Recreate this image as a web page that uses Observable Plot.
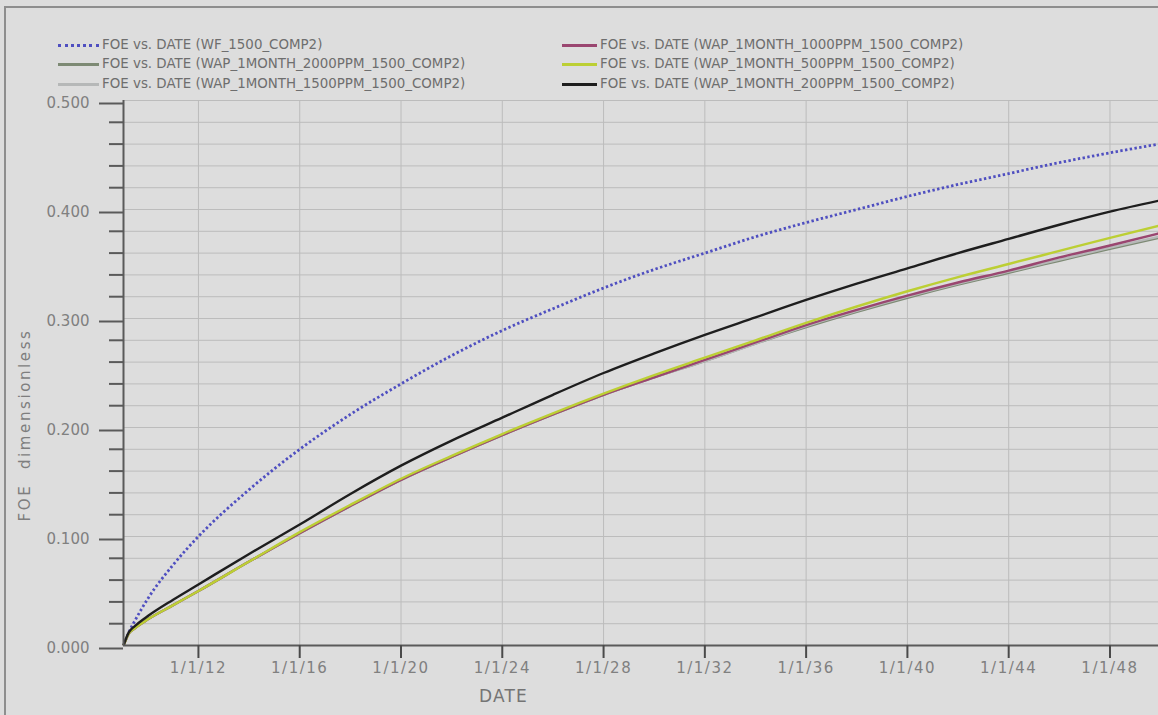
<!DOCTYPE html>
<html><head><meta charset="utf-8">
<script src="https://cdn.jsdelivr.net/npm/d3@7"></script>
<script src="https://cdn.jsdelivr.net/npm/@observablehq/plot@0.6"></script>
<style>
body{margin:0;background:#dddddd;width:1158px;height:715px;overflow:hidden;position:relative;font-family:"DejaVu Sans",sans-serif;}
#frame{position:absolute;left:4px;top:6px;width:1300px;height:900px;border-top:2px solid #8e8e8e;border-left:2px solid #8e8e8e;}
#legend{position:relative;height:90px;}
.item{position:absolute;font-size:13.4px;color:#6e6e6e;line-height:1;white-space:nowrap;transform:translateY(-50%);}
.sw{position:absolute;height:0;}
#chart{position:relative;}
#ytitle{position:absolute;left:25px;top:425px;transform:translate(-50%,-50%) rotate(-90deg);font-size:15px;letter-spacing:2.6px;color:#7e7e7e;white-space:pre;line-height:1;}
#chart svg g[aria-label="x-axis tick label"] text{letter-spacing:1.5px;}
#chart svg g[aria-label="text"] text{letter-spacing:1.2px;}
</style>
</head><body>
<div id="frame"></div>
<div id="legend"></div>
<div id="chart"></div>
<div id="ytitle"></div>
<script>
// ---- data ----
const dates = ["2009-01-15","2009-04-01","2009-07-01","2010-01-01","2011-01-01","2012-01-01","2014-01-01","2016-01-01","2018-01-01","2020-01-01","2022-01-01","2024-01-01","2026-01-01","2028-01-01","2030-01-01","2032-01-01","2034-01-01","2036-01-01","2038-01-01","2040-01-01","2042-01-01","2044-01-01","2046-01-01","2048-01-01","2049-12-01"];
const wf1500      = [0.000,0.012,0.023,0.043,0.074,0.100,0.143,0.180,0.212,0.240,0.266,0.289,0.309,0.328,0.345,0.360,0.375,0.388,0.400,0.412,0.423,0.433,0.443,0.452,0.460];
const wap2000ppm  = [0.000,0.011,0.016,0.024,0.037,0.050,0.077,0.103,0.128,0.152,0.173,0.193,0.212,0.230,0.246,0.261,0.277,0.292,0.306,0.319,0.331,0.342,0.353,0.364,0.374];
const wap1500ppm  = [0.000,0.011,0.016,0.024,0.037,0.050,0.077,0.103,0.128,0.152,0.173,0.193,0.212,0.230,0.246,0.261,0.277,0.293,0.307,0.320,0.332,0.343,0.354,0.365,0.375];
const wap1000ppm  = [0.000,0.011,0.016,0.024,0.037,0.050,0.077,0.103,0.128,0.152,0.173,0.193,0.212,0.230,0.246,0.262,0.278,0.294,0.308,0.321,0.333,0.344,0.356,0.367,0.378];
const wap500ppm   = [0.000,0.011,0.016,0.024,0.037,0.050,0.077,0.104,0.129,0.153,0.174,0.194,0.213,0.231,0.248,0.264,0.280,0.296,0.311,0.325,0.338,0.350,0.362,0.374,0.385];
const wap200ppm   = [0.000,0.012,0.018,0.027,0.042,0.056,0.084,0.111,0.139,0.165,0.188,0.209,0.230,0.250,0.268,0.285,0.301,0.317,0.332,0.346,0.360,0.373,0.386,0.398,0.408];

const seriesNames = [
  "FOE vs. DATE (WF_1500_COMP2)",
  "FOE vs. DATE (WAP_1MONTH_2000PPM_1500_COMP2)",
  "FOE vs. DATE (WAP_1MONTH_1500PPM_1500_COMP2)",
  "FOE vs. DATE (WAP_1MONTH_1000PPM_1500_COMP2)",
  "FOE vs. DATE (WAP_1MONTH_500PPM_1500_COMP2)",
  "FOE vs. DATE (WAP_1MONTH_200PPM_1500_COMP2)"
];
const seriesValues = [wf1500, wap2000ppm, wap1500ppm, wap1000ppm, wap500ppm, wap200ppm];
const seriesColors = ["#4f4fc0", "#7d8a74", "#b6b8b8", "#9a4670", "#bccf34", "#1e1e1e"];

const xTicks = ["2012-01-01","2016-01-01","2020-01-01","2024-01-01","2028-01-01","2032-01-01","2036-01-01","2040-01-01","2044-01-01","2048-01-01"];
const yMajor = [0, 0.1, 0.2, 0.3, 0.4, 0.5];
const yMinor = [0.02,0.04,0.06,0.08,0.12,0.14,0.16,0.18,0.22,0.24,0.26,0.28,0.32,0.34,0.36,0.38,0.42,0.44,0.46,0.48];
const xDomain = ["2009-01-15","2049-12-01"];
const xTitle = "DATE";
const yTitle = "FOE  dimensionless";

// ---- legend ----
const legend = document.getElementById("legend");
const legendSlots = [[58,102,45],[58,102,64],[58,102,84],[562,600,45],[562,600,64],[562,600,84]];
seriesNames.forEach((name, i) => {
  const [sx, tx, y] = legendSlots[i];
  const sw = document.createElement("div");
  sw.className = "sw";
  sw.style.left = sx + "px";
  sw.style.width = (tx - sx - 3) + "px";
  sw.style.top = (y - 1) + "px";
  sw.style.borderTop = i === 0 ? `3px dotted ${seriesColors[i]}` : `3px solid ${seriesColors[i]}`;
  legend.appendChild(sw);
  const t = document.createElement("div");
  t.className = "item";
  t.style.left = tx + "px";
  t.style.top = y + "px";
  t.textContent = name;
  legend.appendChild(t);
});
document.getElementById("ytitle").textContent = yTitle;

// ---- chart ----
const rows = seriesNames.flatMap((name, s) => dates.map((d, i) => ({date: new Date(d), value: seriesValues[s][i], s})));
const fmt = d => `${d.getUTCMonth() + 1}/${d.getUTCDate()}/${String(d.getUTCFullYear()).slice(2)}`;
const xTickDates = xTicks.map(d => new Date(d));

const lineMarks = seriesNames.map((name, s) => Plot.line(rows.filter(r => r.s === s), {
  x: "date", y: "value", stroke: seriesColors[s],
  strokeWidth: s === 0 ? 2.8 : 2.4,
  strokeDasharray: s === 0 ? "2.4,2.4" : null,
  strokeLinecap: "butt",
  curve: "monotone-x"
}));

const chart = Plot.plot({
  width: 1158, height: 625,
  marginTop: 10, marginBottom: 70, marginLeft: 123, marginRight: 0,
  style: {background: "transparent", fontFamily: "DejaVu Sans, sans-serif", overflow: "visible"},
  x: {type: "utc", domain: xDomain.map(d => new Date(d))},
  y: {domain: [0, 0.5]},
  marks: [
    Plot.gridY([...yMajor, ...yMinor], {stroke: "#bcbcbc", strokeOpacity: 1, strokeWidth: 1}),
    Plot.gridX(xTickDates, {stroke: "#bcbcbc", strokeOpacity: 1, strokeWidth: 1}),
    ...lineMarks,
    Plot.ruleX([new Date(xDomain[0])], {stroke: "#5a5a5a", strokeWidth: 2}),
    Plot.ruleY([0], {stroke: "#5a5a5a", strokeWidth: 2}),
    Plot.axisY({ticks: yMajor, tickSize: 24, tickPadding: 10, tickFormat: d3.format(".3f"), fontSize: 15, stroke: "#5a5a5a", strokeWidth: 2, fill: "#808080", label: null, dy: 3}),
    Plot.axisY({ticks: yMinor, tickSize: 14, tickFormat: () => "", stroke: "#5a5a5a", strokeWidth: 2, label: null}),
    Plot.axisX({ticks: xTickDates, tickSize: 13, tickPadding: 4, tickFormat: fmt, fontSize: 15, stroke: "#4a4a4a", strokeWidth: 2, fill: "#808080", label: null}),
    Plot.text([xTitle], {text: d => d, frameAnchor: "bottom", dx: -137.5, dy: 56, fontSize: 17, fill: "#747474"})
  ]
});
document.getElementById("chart").appendChild(chart);
</script>
</body></html>
